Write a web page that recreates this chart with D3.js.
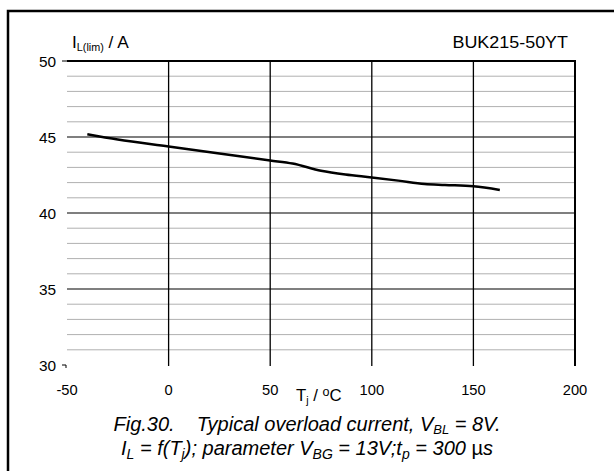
<!DOCTYPE html>
<html><head><meta charset="utf-8">
<script src="https://cdn.jsdelivr.net/npm/d3@7"></script>
<style>body{margin:0;background:#fff}svg{display:block;font-family:"Liberation Sans",Arial,sans-serif}</style>
</head><body>
<svg id="c" width="614" height="471"></svg>
<script>
const temps = [-40, -25, 0, 25, 50, 61, 75, 87, 100, 113, 126, 136, 150, 163];
const currents = [45.18, 44.83, 44.37, 43.91, 43.45, 43.25, 42.78, 42.53, 42.34, 42.13, 41.9, 41.84, 41.76, 41.52];
const xTicks = [-50, 0, 50, 100, 150, 200];
const yTicks = [30, 35, 40, 45, 50];
const yMinor = d3.range(31, 50);

const svg = d3.select("#c");
const x = d3.scaleLinear().domain([-50, 200]).range([67, 575]);
const y = d3.scaleLinear().domain([30, 50]).range([365, 61]);

function txt(px, py, size, anchor, sx) {
  return svg.append("text")
    .attr("transform", `translate(${px},${py}) scale(${sx || 1},1)`)
    .attr("font-size", size).attr("text-anchor", anchor || "start");
}

// frame
svg.append("rect").attr("x", 8).attr("y", 11).attr("width", 640).attr("height", 500)
  .attr("fill", "none").attr("stroke", "#000").attr("stroke-width", 2.5);

// minor horizontal grid
svg.append("g").selectAll("line").data(yMinor.filter(v => v % 5 !== 0)).join("line")
  .attr("x1", x(-50)).attr("x2", x(200)).attr("y1", d => y(d)).attr("y2", d => y(d))
  .attr("stroke", "#b0b0b0").attr("stroke-width", 1);
// major horizontal grid
svg.append("g").selectAll("line").data([35, 40, 45]).join("line")
  .attr("x1", x(-50)).attr("x2", x(200)).attr("y1", d => y(d)).attr("y2", d => y(d))
  .attr("stroke", "#000").attr("stroke-width", 1.2);
svg.append("line").attr("x1", x(-50)).attr("x2", x(200) + 1).attr("y1", y(50)).attr("y2", y(50))
  .attr("stroke", "#000").attr("stroke-width", 2);
// vertical grid
svg.append("g").selectAll("line").data([0, 50, 100, 150, 200]).join("line")
  .attr("x1", d => x(d)).attr("x2", d => x(d)).attr("y1", y(50)).attr("y2", y(30) + 1)
  .attr("stroke", "#000").attr("stroke-width", d => d === 200 ? 2 : 1.3);

// y tick marks
svg.append("line").attr("x1", x(-50) - 5).attr("x2", x(-50)).attr("y1", y(50)).attr("y2", y(50))
  .attr("stroke", "#000").attr("stroke-width", 1);
svg.append("path").attr("d", `M${x(-50) - 5},${y(30)}H${x(-50) - 1}V${y(30) + 3}`)
  .attr("fill", "none").attr("stroke", "#000").attr("stroke-width", 1);

// y labels
yTicks.forEach(d => txt(56, y(d) + 6, 14, "end", 1.1).text(d));
// x labels
xTicks.forEach(d => txt(x(d), 395, 14, "middle", 1.05).text(d));

// x axis title
const xt = txt(296, 401, 16, "start", 1.05);
xt.append("tspan").text("T");
xt.append("tspan").attr("font-size", 10).attr("dy", 3).text("j");
xt.append("tspan").attr("dy", -3).text(" / ");
xt.append("tspan").attr("font-size", 12).attr("dy", -5).text("o");
xt.append("tspan").attr("dy", 5).text("C");

// y axis title
const yt = txt(72, 48, 16, "start", 1.08);
yt.append("tspan").text("I");
yt.append("tspan").attr("font-size", 10).attr("dy", 3).text("L(lim)");
yt.append("tspan").attr("dy", -3).text(" / A");

txt(568, 48, 16.3, "end", 1.1).text("BUK215-50YT");

// curve
const line = d3.line().x((d, i) => x(temps[i])).y(d => y(d)).curve(d3.curveMonotoneX);
svg.append("path").datum(currents).attr("d", line)
  .attr("fill", "none").attr("stroke", "#000").attr("stroke-width", 2.5);

// caption
const c1 = txt(307, 431, 20, "middle");
c1.attr("font-style", "italic");
c1.append("tspan").text("Fig.30.\u00a0\u00a0\u00a0 Typical overload current, V");
c1.append("tspan").attr("font-size", 13).attr("dy", 3).text("BL");
c1.append("tspan").attr("dy", -3).text(" = 8V.");
const c2 = txt(307, 455, 20, "middle");
c2.attr("font-style", "italic");
c2.append("tspan").text("I");
c2.append("tspan").attr("font-size", 14).attr("dy", 4).text("L");
c2.append("tspan").attr("dy", -4).text(" = f(T");
c2.append("tspan").attr("font-size", 14).attr("dy", 4).text("j");
c2.append("tspan").attr("dy", -4).text("); parameter V");
c2.append("tspan").attr("font-size", 14).attr("dy", 4).text("BG");
c2.append("tspan").attr("dy", -4).text(" = 13V;t");
c2.append("tspan").attr("font-size", 14).attr("dy", 4).text("p");
c2.append("tspan").attr("dy", -4).text(" = 300 ");
c2.append("tspan").attr("font-style", "normal").text("\u00b5");
c2.append("tspan").text("s");
</script>
</body></html>
